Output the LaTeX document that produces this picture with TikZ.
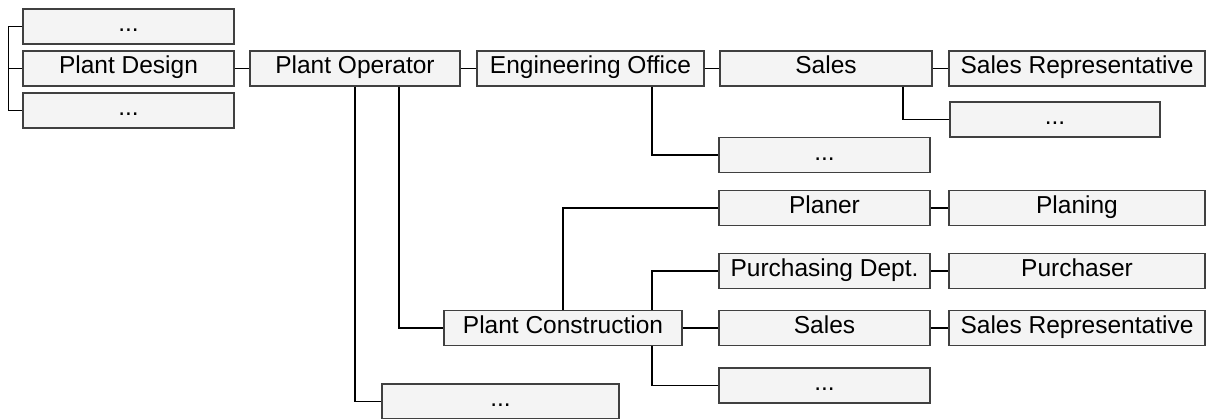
\documentclass[tikz,border=0pt]{standalone}
\usepackage{fontspec}
\setmainfont{Liberation Sans}
\usepackage{tikz}
\usetikzlibrary{positioning}
\definecolor{boxfill}{HTML}{F4F4F4}
\definecolor{boxline}{HTML}{404040}
\tikzset{x=1pt,y=-1pt}
\tikzset{unit/.style={draw=boxline, fill=boxfill, line width=1.1pt, rectangle,
    minimum height=35, inner sep=0pt, text height=17pt, text depth=7pt,
    font=\fontsize{24.5}{27}\selectfont},
  wide/.style={unit, minimum width=211},
  link/.style={line width=1.4pt, draw=black}}

\begin{document}
\begin{tikzpicture}
    \useasboundingbox (0,0) rectangle (1206,418);
    % first column
    \node[wide] (dotsA)   at (128.5,26.5) {...};
    \node[wide] (design)  at (128.5,68.5) {Plant Design};
    \node[wide] (dotsB)   at (128.5,110.5) {...};
    % top row
    \node[unit, minimum width=210] (operator) at (355,68.5) {Plant Operator};
    \node[unit, minimum width=227] (office)   at (590.5,68.5) {Engineering Office};
    \node[unit, minimum width=212] (salesA)   at (826,68.5) {Sales};
    \node[unit, minimum width=256] (repA)     at (1077,68.5) {Sales Representative};
    \node[unit, minimum width=210] (dotsC)    at (1055,119.5) {...};
    \node[wide] (dotsD) at (824.5,155) {...};
    % construction branch
    \node[unit, minimum width=238] (construction) at (563,328) {Plant Construction};
    \node[wide] (planer) at (824.5,208) {Planer};
    \node[unit, minimum width=256] (planing) at (1077,208) {Planing};
    \node[wide] (purchasing) at (824.5,271) {Purchasing Dept.};
    \node[unit, minimum width=256] (purchaser) at (1077,271) {Purchaser};
    \node[wide] (salesB) at (824.5,328) {Sales};
    \node[unit, minimum width=256] (repB) at (1077,328) {Sales Representative};
    \node[wide] (dotsE) at (824.5,385.5) {...};
    \node[unit, minimum width=237] (dotsF) at (500.5,401.5) {...};

    % connectors
    \draw[link] (dotsA.west) -- ++(-14,0) |- (dotsB.west);
    \draw[link] (design.west) -- ++(-14,0);
    \draw[link] (design) -- (operator);
    \draw[link] (operator) -- (office);
    \draw[link] (office) -- (salesA);
    \draw[link] (salesA) -- (repA);
    \draw[link] ([xshift=77]salesA.south) |- (dotsC.west);
    \draw[link] ([xshift=61.5]office.south) |- (dotsD.west);
    \draw[link] ([xshift=44]operator.south) |- (construction.west);
    \draw[link] (operator.south) |- (dotsF.west);
    \draw[link] (construction.north) |- (planer.west);
    \draw[link] ([xshift=89]construction.north) |- (purchasing.west);
    \draw[link] (construction) -- (salesB);
    \draw[link] ([xshift=89]construction.south) |- (dotsE.west);
    \draw[link] (planer) -- (planing);
    \draw[link] (purchasing) -- (purchaser);
    \draw[link] (salesB) -- (repB);
\end{tikzpicture}
\end{document}
